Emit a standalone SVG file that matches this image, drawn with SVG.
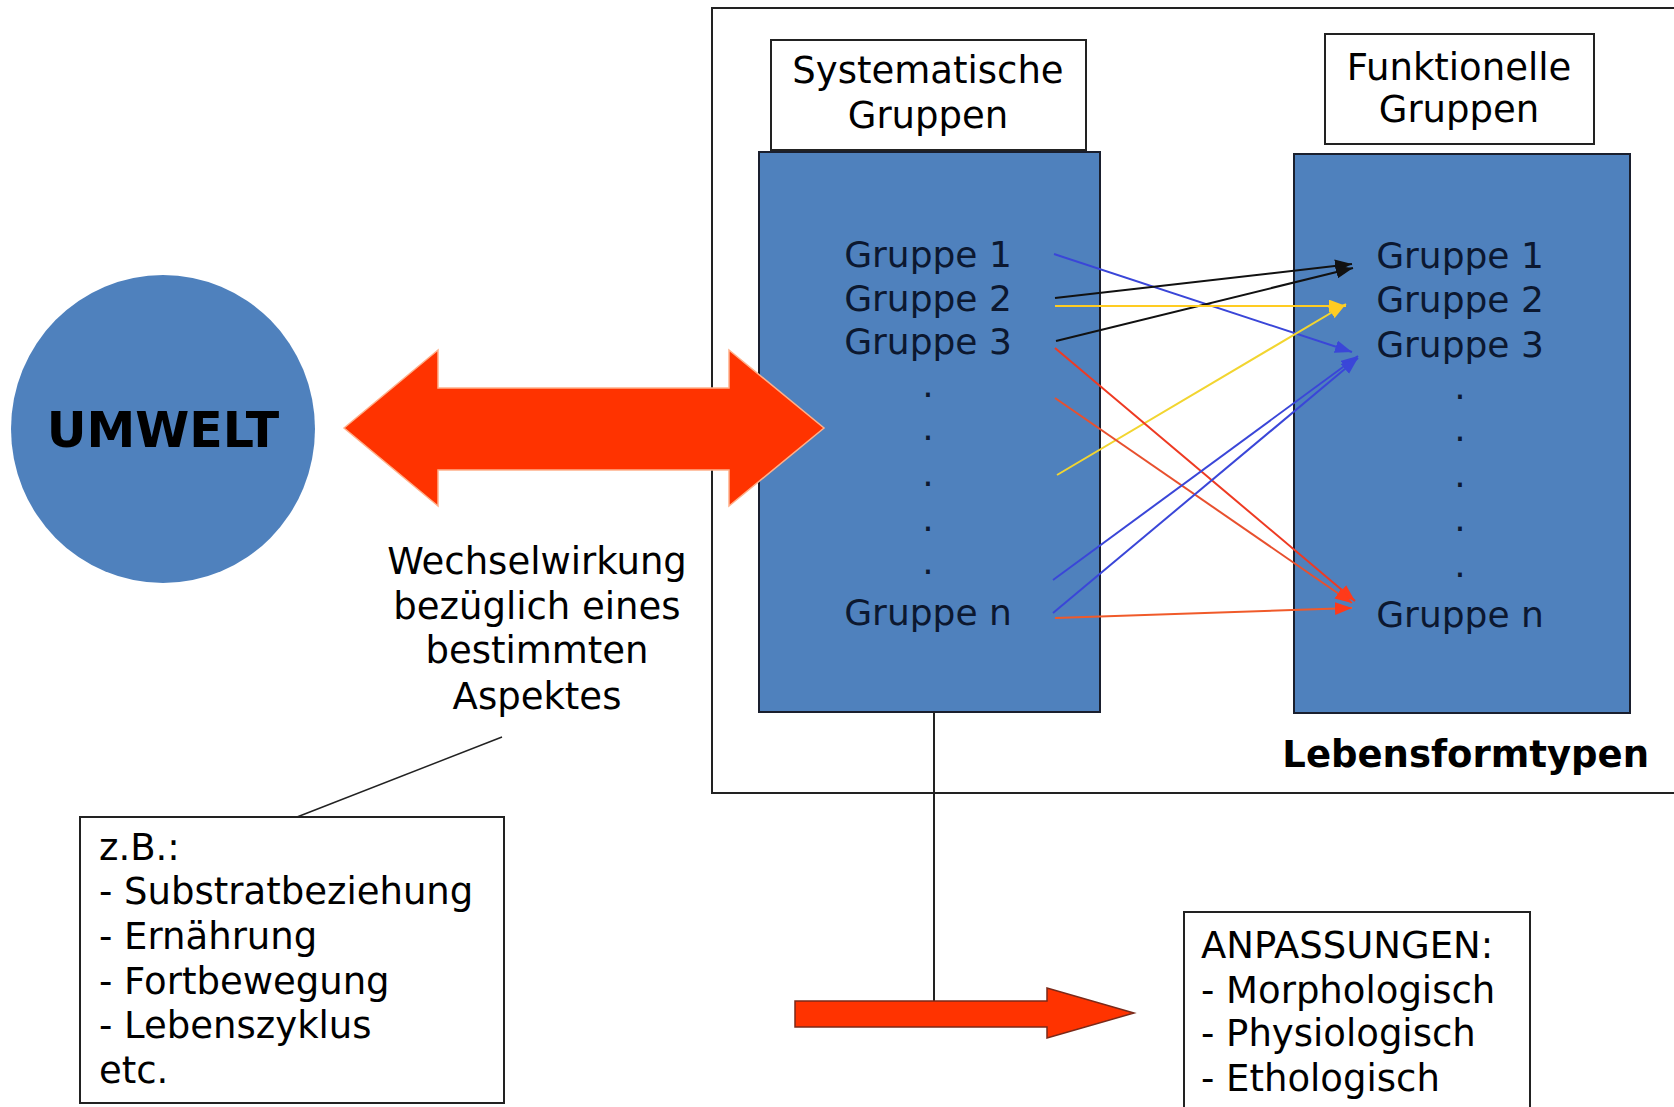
<svg xmlns="http://www.w3.org/2000/svg" width="1674" height="1107" viewBox="0 0 1674 1107">
<style>
.t{font-family:"DejaVu Sans","Verdana",sans-serif;font-size:37px;fill:#000}
.g{font-family:"DejaVu Sans","Verdana",sans-serif;font-size:36px;fill:#0c1830}
.b{font-family:"DejaVu Sans","Verdana",sans-serif;font-weight:bold;fill:#000}
.box{fill:#fff;stroke:#222;stroke-width:2}
.blue{fill:#4f81bd;stroke:#1a1f2e;stroke-width:2}
.red{fill:#ff3300}
.ln{fill:none;stroke-width:2}
</style>
<defs>
<marker id="mk" viewBox="0 0 16 12" refX="16" refY="6" markerWidth="17" markerHeight="13" markerUnits="userSpaceOnUse" orient="auto"><path d="M0,0 L16,6 L0,12 z" fill="#111"/></marker>
<marker id="my" viewBox="0 0 16 12" refX="16" refY="6" markerWidth="17" markerHeight="13" markerUnits="userSpaceOnUse" orient="auto"><path d="M0,0 L16,6 L0,12 z" fill="#ffcc22"/></marker>
<marker id="mb" viewBox="0 0 16 12" refX="16" refY="6" markerWidth="17" markerHeight="13" markerUnits="userSpaceOnUse" orient="auto"><path d="M0,0 L16,6 L0,12 z" fill="#3a46d8"/></marker>
<marker id="mr" viewBox="0 0 16 12" refX="16" refY="6" markerWidth="17" markerHeight="13" markerUnits="userSpaceOnUse" orient="auto"><path d="M0,0 L16,6 L0,12 z" fill="#ff3a1a"/></marker>
</defs>
<rect width="1674" height="1107" fill="#fff"/>

<g id="outer-frame">
<rect x="712" y="8" width="966" height="785" fill="none" stroke="#222" stroke-width="2"/>
<text class="b" x="1649" y="767" font-size="37" text-anchor="end">Lebensformtypen</text>
</g>

<g id="umwelt">
<ellipse cx="163" cy="429" rx="152" ry="154" fill="#4f81bd"/>
<text class="b" x="163" y="447" font-size="49" text-anchor="middle">UMWELT</text>
</g>

<g id="wechsel-label">
<text class="t" text-anchor="middle" x="537"><tspan x="537" y="574">Wechselwirkung</tspan><tspan x="537" y="619">bezüglich eines</tspan><tspan x="537" y="663">bestimmten</tspan><tspan x="537" y="709">Aspektes</tspan></text>
</g>

<g id="sys-header">
<rect class="box" x="771" y="40" width="315" height="110"/>
<text class="t" text-anchor="middle"><tspan x="928" y="83">Systematische</tspan><tspan x="928" y="128">Gruppen</tspan></text>
</g>

<g id="fun-header">
<rect class="box" x="1325" y="34" width="269" height="110"/>
<text class="t" text-anchor="middle"><tspan x="1459" y="80">Funktionelle</tspan><tspan x="1459" y="122">Gruppen</tspan></text>
</g>

<g id="sys-groups">
<rect class="blue" x="759" y="152" width="341" height="560"/>
<text class="g" text-anchor="middle"><tspan x="928" y="267">Gruppe 1</tspan><tspan x="928" y="311">Gruppe 2</tspan><tspan x="928" y="354">Gruppe 3</tspan><tspan x="928" y="397">.</tspan><tspan x="928" y="440">.</tspan><tspan x="928" y="486">.</tspan><tspan x="928" y="531">.</tspan><tspan x="928" y="574">.</tspan><tspan x="928" y="625">Gruppe n</tspan></text>
</g>

<g id="fun-groups">
<rect class="blue" x="1294" y="154" width="336" height="559"/>
<text class="g" text-anchor="middle"><tspan x="1460" y="268">Gruppe 1</tspan><tspan x="1460" y="312">Gruppe 2</tspan><tspan x="1460" y="357">Gruppe 3</tspan><tspan x="1460" y="399">.</tspan><tspan x="1460" y="441">.</tspan><tspan x="1460" y="487">.</tspan><tspan x="1460" y="531">.</tspan><tspan x="1460" y="577">.</tspan><tspan x="1460" y="627">Gruppe n</tspan></text>
</g>

<g id="wechsel-arrow">
<polygon class="red" stroke="#ffb08a" stroke-width="1.5" points="344,428 438,350 438,388 729,388 729,350 824,428 729,506 729,470 438,470 438,506"/>
</g>

<g id="beispiele">
<rect class="box" x="80" y="817" width="424" height="286"/>
<text class="t"><tspan x="99" y="860">z.B.:</tspan><tspan x="99" y="904">- Substratbeziehung</tspan><tspan x="99" y="949">- Ernährung</tspan><tspan x="99" y="994">- Fortbewegung</tspan><tspan x="99" y="1038">- Lebenszyklus</tspan><tspan x="99" y="1083">etc.</tspan></text>
</g>

<g id="anpassungen">
<rect class="box" x="1184" y="912" width="346" height="200"/>
<text class="t"><tspan x="1201" y="958">ANPASSUNGEN:</tspan><tspan x="1201" y="1003">- Morphologisch</tspan><tspan x="1201" y="1046">- Physiologisch</tspan><tspan x="1201" y="1091">- Ethologisch</tspan></text>
</g>

<g id="connectors">
<line x1="502" y1="737" x2="297" y2="817" stroke="#222" stroke-width="1.5"/>
<line x1="934" y1="712" x2="934" y2="1001" stroke="#222" stroke-width="2"/>
<polygon class="red" stroke="#7a2a1a" stroke-width="1.5" points="795,1001 1047,1001 1047,988 1134,1013 1047,1038 1047,1027 795,1027"/>
<line class="ln" x1="1054" y1="254" x2="1352" y2="352" stroke="#3a46d8" marker-end="url(#mb)"/>
<line class="ln" x1="1055" y1="298" x2="1352" y2="264" stroke="#111" marker-end="url(#mk)"/>
<line class="ln" x1="1056" y1="341" x2="1353" y2="268" stroke="#111" marker-end="url(#mk)"/>
<line class="ln" x1="1055" y1="306" x2="1346" y2="306" stroke="#ffcc22" marker-end="url(#my)"/>
<line class="ln" x1="1057" y1="475" x2="1346" y2="304" stroke="#f2d530" marker-end="url(#my)"/>
<line class="ln" x1="1055" y1="348" x2="1355" y2="601" stroke="#ee3a22" marker-end="url(#mr)"/>
<line class="ln" x1="1055" y1="398" x2="1352" y2="603" stroke="#e8502e" marker-end="url(#mr)"/>
<line class="ln" x1="1053" y1="580" x2="1358" y2="356" stroke="#3a46d8" marker-end="url(#mb)"/>
<line class="ln" x1="1053" y1="613" x2="1358" y2="358" stroke="#3a46d8" marker-end="url(#mb)"/>
<line class="ln" x1="1055" y1="618" x2="1352" y2="608" stroke="#f05a2a" marker-end="url(#mr)"/>
</g>
</svg>
